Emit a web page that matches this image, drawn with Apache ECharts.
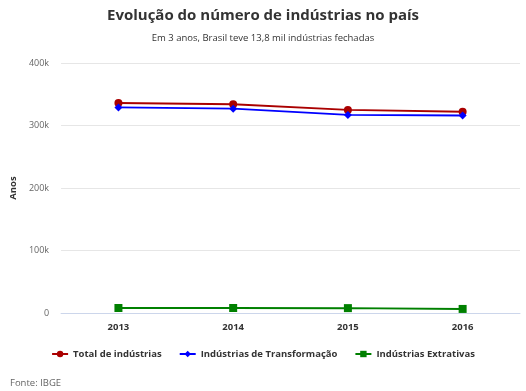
<!DOCTYPE html>
<html><head><meta charset="utf-8">
<script src="https://cdn.jsdelivr.net/npm/echarts@6/dist/echarts.min.js"></script>
<style>html,body{margin:0;padding:0;background:#fff}#c{width:526px;height:391px}</style>
</head><body><div id="c"></div>
<script>
var categories = ['2013', '2014', '2015', '2016'];
var totalIndustrias = [336000, 334000, 325000, 322000];
var transformacao = [329000, 327000, 317000, 316000];
var extrativas = [8000, 8000, 7800, 6500];
var yTicks = [0, 100000, 200000, 300000, 400000];

var font = '"Open Sans", sans-serif';
var chart = echarts.init(document.getElementById('c'));
chart.setOption({
  animation: false,
  textStyle: {fontFamily: font},
  title: [{
    text: 'Evolução do número de indústrias no país',
    left: 'center', top: 3,
    textStyle: {fontFamily: font, fontSize: 15, fontWeight: 'bold', color: '#333'},
    subtext: 'Em 3 anos, Brasil teve 13,8 mil indústrias fechadas',
    subtextStyle: {fontFamily: font, fontSize: 9.5, color: '#333'},
    itemGap: 10
  }, {
    text: 'Fonte: IBGE',
    left: 5, top: 373,
    textStyle: {fontFamily: font, fontSize: 9.5, fontWeight: 'normal', color: '#666'}
  }],
  legend: {
    top: 344, left: 'center',
    itemWidth: 16, itemHeight: 8, itemGap: 17,
    textStyle: {fontFamily: font, fontSize: 9.5, fontWeight: 'bold', color: '#333'},
    data: ['Total de indústrias', 'Indústrias de Transformação', 'Indústrias Extrativas']
  },
  grid: {left: 60, right: 6, top: 63, bottom: 78},
  xAxis: {
    type: 'category', data: categories, boundaryGap: true,
    axisLine: {lineStyle: {color: '#ccd6eb'}},
    axisTick: {length: 9, lineStyle: {color: '#ccd6eb'}},
    axisLabel: {fontFamily: font, fontSize: 9.5, fontWeight: 'bold', color: '#333', margin: 9}
  },
  yAxis: {
    type: 'value', min: 0, max: 400000, interval: 100000,
    name: 'Anos', nameLocation: 'middle', nameGap: 43, nameRotate: 90,
    nameTextStyle: {fontFamily: font, fontSize: 9.5, fontWeight: 'bold', color: '#333'},
    axisLine: {show: false}, axisTick: {show: false},
    splitLine: {lineStyle: {color: '#e6e6e6'}},
    axisLabel: {fontFamily: font, fontSize: 9, color: '#666', margin: 12,
      formatter: function (v) { return v === 0 ? '0' : (v / 1000) + 'k'; }}
  },
  series: [{
    name: 'Total de indústrias', type: 'line', data: totalIndustrias,
    symbol: 'circle', symbolSize: 8, lineStyle: {width: 2, color: '#aa0000'},
    itemStyle: {color: '#aa0000'}
  }, {
    name: 'Indústrias de Transformação', type: 'line', data: transformacao,
    symbol: 'diamond', symbolSize: 8, lineStyle: {width: 2, color: '#0000ff'},
    itemStyle: {color: '#0000ff'}
  }, {
    name: 'Indústrias Extrativas', type: 'line', data: extrativas,
    symbol: 'rect', symbolSize: 8, lineStyle: {width: 2, color: '#008000'},
    itemStyle: {color: '#008000'}
  }]
});
</script></body></html>
